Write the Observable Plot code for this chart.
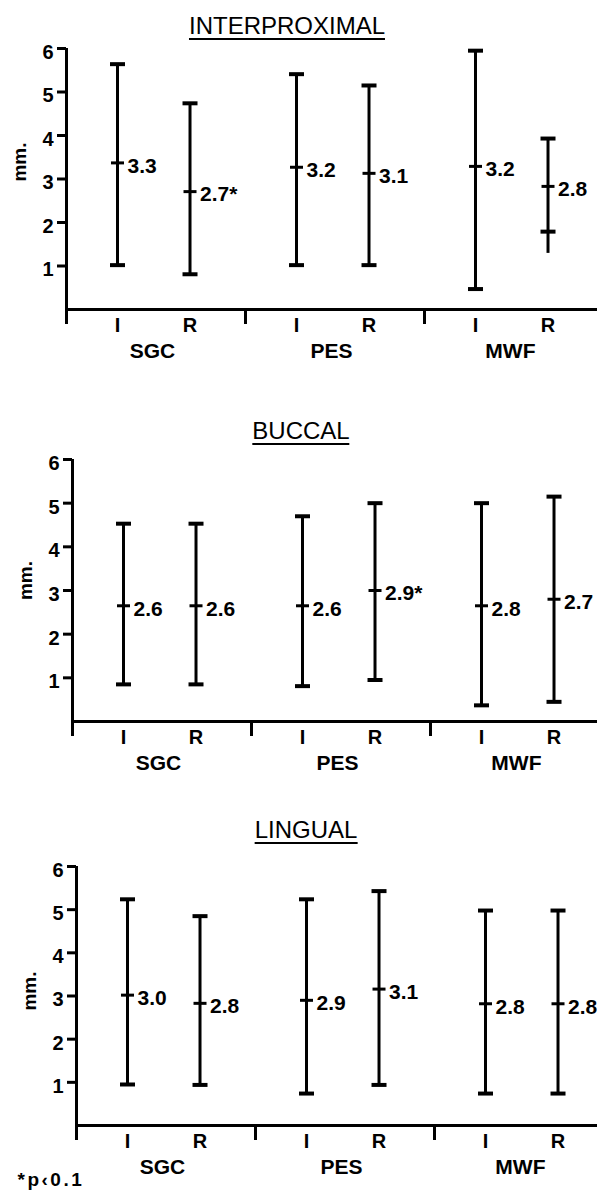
<!DOCTYPE html>
<html><head><meta charset="utf-8">
<script src="https://cdn.jsdelivr.net/npm/d3@7"></script>
<script src="https://cdn.jsdelivr.net/npm/@observablehq/plot@0.6"></script>
<style>
html,body{margin:0;padding:0;background:#fff;overflow:hidden;}
#root{position:relative;width:597px;height:1192px;overflow:hidden;background:#fff;}
.panel{position:absolute;left:0;width:640px;}
.panel svg{max-width:none !important;}
.title{position:absolute;font-family:"Liberation Sans",Arial,sans-serif;font-size:24px;line-height:24px;transform:translateX(-50%);border-bottom:2.5px solid #000;white-space:nowrap;color:#000;}
</style></head><body><div id="root"></div>
<script>
// ---- data ----
const groups = ["SGC", "PES", "MWF"];
const treatments = ["I", "R"];
const yTicks = [1, 2, 3, 4, 5, 6];
const separators = [0, 1, 2, 3];
const panelTitles = ["INTERPROXIMAL", "BUCCAL", "LINGUAL"];
const yLabel = "mm.";
const footnote = "*p‹0.1";

// order: SGC-I, SGC-R, PES-I, PES-R, MWF-I, MWF-R
const interMean    = [3.37, 2.71, 3.27, 3.13, 3.29, 2.83];
const interHigh    = [5.64, 4.74, 5.41, 5.15, 5.95, 3.93];
const interLow     = [1.02, 0.81, 1.02, 1.02, 0.47, 1.79];
const interLineLow = [1.02, 0.81, 1.02, 1.02, 0.47, 1.29];
const interLabels  = ["3.3", "2.7*", "3.2", "3.1", "3.2", "2.8"];

const buccalMean   = [2.65, 2.65, 2.65, 3.00, 2.65, 2.80];
const buccalHigh   = [4.53, 4.53, 4.70, 5.00, 5.00, 5.15];
const buccalLow    = [0.85, 0.85, 0.81, 0.95, 0.37, 0.45];
const buccalLabels = ["2.6", "2.6", "2.6", "2.9*", "2.8", "2.7"];

const lingualMean   = [3.02, 2.83, 2.90, 3.16, 2.82, 2.82];
const lingualHigh   = [5.24, 4.85, 5.24, 5.43, 4.98, 4.98];
const lingualLow    = [0.95, 0.94, 0.74, 0.94, 0.74, 0.74];
const lingualLabels = ["3.0", "2.8", "2.9", "3.1", "2.8", "2.8"];

const series = [
  {mean: interMean, high: interHigh, low: interLow, lineLow: interLineLow, labels: interLabels},
  {mean: buccalMean, high: buccalHigh, low: buccalLow, lineLow: buccalLow, labels: buccalLabels},
  {mean: lingualMean, high: lingualHigh, low: lingualLow, lineLow: lingualLow, labels: lingualLabels}
];

// ---- layout ----
const layout = [
  {top: 0,   ml: 66, mt: 48, mb: 61, h: 370, titleX: 287, titleTop: 14, labDy: -17},
  {top: 395, ml: 72, mt: 64, mb: 49, h: 375, titleX: 301, titleTop: 419, labDy: -10},
  {top: 785, ml: 76, mt: 81, mb: 67, h: 407, titleX: 306, titleTop: 818, labDy: -5}
];
const subOffset = {I: 0.285, R: 0.69};
const U = 179;
const W = 640;
const FONT = "'Liberation Sans', Arial, sans-serif";
const hline = {draw(ctx, size) { const r = Math.sqrt(size / Math.PI); ctx.moveTo(-r, 0); ctx.lineTo(r, 0); }};

const root = document.getElementById("root");

series.forEach((s, p) => {
  const L = layout[p];
  const rows = [];
  groups.forEach((g, gi) => treatments.forEach((t, ti) => {
    const k = gi * 2 + ti;
    rows.push({group: g, sub: t, x: gi + subOffset[t], mean: s.mean[k], high: s.high[k], low: s.low[k], lineLow: s.lineLow[k], label: s.labels[k]});
  }));

  const marks = [
    Plot.axisX({ticks: separators, tickSize: 15, tickFormat: () => "", strokeWidth: 3, label: null}),
    Plot.axisY({ticks: yTicks, tickSize: 9, tickFormat: () => "", strokeWidth: 3, label: null}),
    Plot.ruleY([0], {x1: 0, x2: 3, strokeWidth: 3}),
    Plot.ruleX([0], {y1: 0, y2: 6, strokeWidth: 3}),
    Plot.text(yTicks, {y: d => d, text: d => String(d), frameAnchor: "left", textAnchor: "end", lineAnchor: "middle", dx: -13, dy: 4, fontSize: 20, fontWeight: "bold"}),
    Plot.text([yLabel], {text: d => d, frameAnchor: "left", textAnchor: "middle", lineAnchor: "middle", rotate: -90, dx: -47, dy: L.labDy, fontSize: 19, fontWeight: "bold"}),
    Plot.ruleX(rows, {x: "x", y1: "lineLow", y2: "high", strokeWidth: 3}),
    Plot.dot(rows, {x: "x", y: "high", symbol: hline, r: 7.5, stroke: "#000", fill: "none", strokeWidth: 4}),
    Plot.dot(rows, {x: "x", y: "low", symbol: hline, r: 7.5, stroke: "#000", fill: "none", strokeWidth: 4}),
    Plot.dot(rows, {x: "x", y: "mean", symbol: hline, r: 6.5, stroke: "#000", fill: "none", strokeWidth: 3}),
    Plot.text(rows, {x: "x", y: "mean", text: "label", textAnchor: "start", lineAnchor: "middle", dx: 10, dy: 3, fontSize: 21, fontWeight: "bold"}),
    Plot.text(rows, {x: "x", text: "sub", frameAnchor: "bottom", lineAnchor: "middle", dy: 16, fontSize: 20, fontWeight: "bold"}),
    Plot.text(groups, {x: (d, i) => i + 0.48, text: d => d, frameAnchor: "bottom", lineAnchor: "middle", dy: 42, fontSize: 21, fontWeight: "bold"})
  ];
  if (p === 2) {
    marks.push(Plot.text([footnote], {text: d => d, frameAnchor: "bottom-left", textAnchor: "start", lineAnchor: "middle", dx: -59, dy: 54, fontSize: 19, fontWeight: "bold"}));
  }

  const chart = Plot.plot({
    width: W, height: L.h,
    marginLeft: L.ml, marginRight: W - L.ml - 3 * U, marginTop: L.mt, marginBottom: L.mb,
    x: {domain: [0, 3]},
    y: {domain: [0, 6]},
    style: {fontFamily: FONT, color: "#000", background: "none", overflow: "visible", maxWidth: "none"},
    marks
  });
  chart.style.maxWidth = "none";
  chart.style.width = W + "px";
  chart.style.height = L.h + "px";
  chart.querySelectorAll("text").forEach(t => { if (t.textContent === footnote) t.style.letterSpacing = "2.5px"; });
  const wrap = document.createElement("div");
  wrap.className = "panel";
  wrap.style.top = L.top + "px";
  wrap.appendChild(chart);
  root.appendChild(wrap);

  const title = document.createElement("div");
  title.className = "title";
  title.style.left = L.titleX + "px";
  title.style.top = L.titleTop + "px";
  title.textContent = panelTitles[p];
  root.appendChild(title);
});
</script>
</body></html>
